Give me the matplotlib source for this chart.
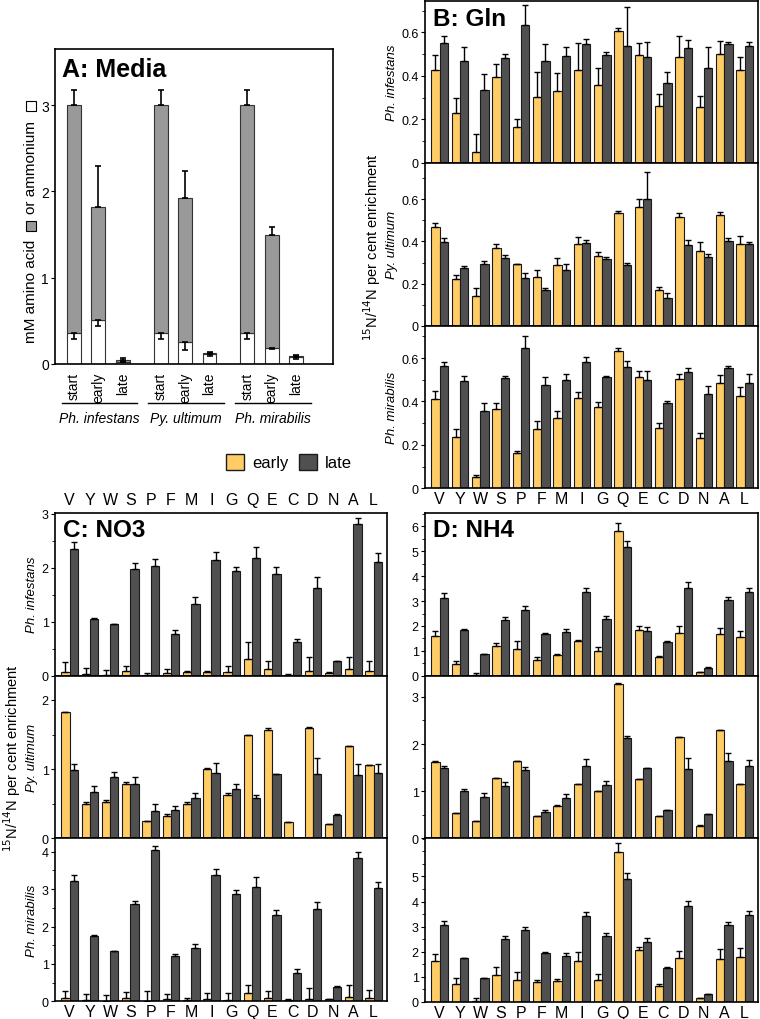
import numpy as np
import matplotlib.pyplot as plt
from matplotlib.patches import Patch, Rectangle
from matplotlib.ticker import MultipleLocator

plt.rcParams['font.family'] = ['Liberation Sans', 'DejaVu Sans']

amino = ['V', 'Y', 'W', 'S', 'P', 'F', 'M', 'I', 'G', 'Q', 'E', 'C', 'D', 'N', 'A', 'L']
species = ['Ph. infestans', 'Py. ultimum', 'Ph. mirabilis']
nan = np.nan

# --- A: media, mM amino acid (grey, total) / ammonium (white)
media_stage = ['start', 'early', 'late']
media_total = [3.00, 1.82, 0.05, 3.00, 1.92, 0.13, 3.00, 1.50, 0.09]
media_total_err = [0.17, 0.47, 0.02, 0.17, 0.32, 0.01, 0.17, 0.09, 0.01]
media_amm = [0.36, 0.51, 0.02, 0.36, 0.25, 0.12, 0.36, 0.19, 0.08]
media_amm_err = [0.07, 0.07, 0.00, 0.07, 0.09, 0.03, 0.07, 0.02, 0.02]

# --- B: Gln
gln_inf_early = [0.428, 0.230, 0.049, 0.394, 0.164, 0.303, 0.332, 0.425, 0.358, 0.609, 0.495, 0.262, 0.487, 0.257, 0.501, 0.425]
gln_inf_early_err = [0.069, 0.067, 0.085, 0.060, 0.037, 0.117, 0.079, 0.127, 0.079, 0.012, 0.056, 0.056, 0.099, 0.050, 0.058, 0.061]
gln_inf_late = [0.553, 0.469, 0.336, 0.482, 0.633, 0.469, 0.492, 0.545, 0.496, 0.539, 0.486, 0.367, 0.527, 0.435, 0.545, 0.539]
gln_inf_late_err = [0.030, 0.064, 0.072, 0.017, 0.094, 0.079, 0.041, 0.023, 0.014, 0.178, 0.071, 0.052, 0.039, 0.099, 0.009, 0.018]

gln_ult_early = [0.467, 0.220, 0.142, 0.367, 0.293, 0.233, 0.290, 0.386, 0.329, 0.533, 0.563, 0.168, 0.517, 0.354, 0.524, 0.386]
gln_ult_early_err = [0.019, 0.021, 0.035, 0.022, 0.002, 0.030, 0.033, 0.036, 0.022, 0.011, 0.038, 0.017, 0.016, 0.045, 0.014, 0.038]
gln_ult_late = [0.397, 0.272, 0.294, 0.320, 0.225, 0.168, 0.264, 0.391, 0.315, 0.286, 0.601, 0.131, 0.381, 0.324, 0.402, 0.386]
gln_ult_late_err = [0.018, 0.013, 0.013, 0.014, 0.025, 0.011, 0.029, 0.017, 0.013, 0.010, 0.130, 0.026, 0.024, 0.015, 0.016, 0.013]

gln_mir_early = [0.413, 0.238, 0.051, 0.365, 0.161, 0.273, 0.322, 0.414, 0.374, 0.633, 0.511, 0.276, 0.505, 0.230, 0.485, 0.423]
gln_mir_early_err = [0.036, 0.033, 0.012, 0.026, 0.012, 0.038, 0.032, 0.031, 0.025, 0.011, 0.029, 0.025, 0.021, 0.025, 0.038, 0.042]
gln_mir_late = [0.564, 0.494, 0.355, 0.506, 0.647, 0.474, 0.497, 0.584, 0.512, 0.561, 0.501, 0.393, 0.538, 0.436, 0.555, 0.486]
gln_mir_late_err = [0.020, 0.024, 0.038, 0.011, 0.056, 0.038, 0.028, 0.020, 0.006, 0.025, 0.039, 0.010, 0.017, 0.035, 0.009, 0.042]

# --- C: NO3
no3_inf_early = [0.07, 0.04, 0.01, 0.08, 0.02, 0.05, 0.07, 0.06, 0.06, 0.30, 0.13, 0.02, 0.09, 0.05, 0.13, 0.09]
no3_inf_early_err = [0.19, 0.11, 0.09, 0.10, 0.03, 0.08, 0.02, 0.03, 0.12, 0.33, 0.14, 0.02, 0.25, 0.01, 0.22, 0.19]
no3_inf_late = [2.35, 1.05, 0.95, 1.98, 2.03, 0.78, 1.32, 2.15, 1.93, 2.18, 1.89, 0.62, 1.63, 0.27, 2.80, 2.11]
no3_inf_late_err = [0.13, 0.01, 0.01, 0.10, 0.13, 0.07, 0.13, 0.13, 0.09, 0.20, 0.13, 0.05, 0.20, 0.01, 0.11, 0.16]

no3_ult_early = [1.82, 0.50, 0.53, 0.79, 0.25, 0.32, 0.50, 1.00, 0.62, 1.49, 1.56, 0.24, 1.60, 0.20, 1.33, 1.06]
no3_ult_early_err = [0.01, 0.02, 0.03, 0.02, 0.00, 0.03, 0.03, 0.01, 0.03, 0.01, 0.04, 0.00, 0.01, 0.01, 0.01, 0.00]
no3_ult_late = [0.98, 0.67, 0.88, 0.79, 0.40, 0.41, 0.58, 0.95, 0.71, 0.58, 0.93, nan, 0.93, 0.34, 0.92, 0.94]
no3_ult_late_err = [0.09, 0.08, 0.08, 0.10, 0.09, 0.06, 0.08, 0.14, 0.08, 0.04, 0.00, nan, 0.23, 0.01, 0.15, 0.14]

no3_mir_early = [0.08, 0.04, 0.01, 0.09, 0.02, 0.05, 0.04, 0.07, 0.04, 0.23, 0.10, 0.03, 0.07, 0.05, 0.12, 0.08]
no3_mir_early_err = [0.20, 0.15, 0.15, 0.15, 0.26, 0.14, 0.04, 0.15, 0.19, 0.20, 0.18, 0.02, 0.28, 0.02, 0.31, 0.23]
no3_mir_late = [3.21, 1.75, 1.34, 2.59, 4.06, 1.20, 1.42, 3.37, 2.86, 3.07, 2.30, 0.77, 2.47, 0.39, 3.84, 3.02]
no3_mir_late_err = [0.18, 0.02, 0.01, 0.09, 0.10, 0.07, 0.12, 0.17, 0.11, 0.26, 0.14, 0.09, 0.19, 0.02, 0.16, 0.18]

# --- D: NH4
nh4_inf_early = [1.59, 0.49, 0.02, 1.18, 1.06, 0.63, 0.83, 1.40, 0.99, 5.80, 1.84, 0.75, 1.71, 0.15, 1.68, 1.56]
nh4_inf_early_err = [0.21, 0.11, 0.10, 0.14, 0.34, 0.11, 0.03, 0.03, 0.15, 0.35, 0.17, 0.03, 0.27, 0.01, 0.23, 0.22]
nh4_inf_late = [3.14, 1.83, 0.87, 2.25, 2.66, 1.66, 1.75, 3.38, 2.27, 5.19, 1.80, 1.36, 3.54, 0.32, 3.06, 3.38]
nh4_inf_late_err = [0.18, 0.03, 0.01, 0.10, 0.15, 0.06, 0.11, 0.15, 0.11, 0.24, 0.17, 0.04, 0.23, 0.01, 0.12, 0.16]

nh4_ult_early = [1.61, 0.53, 0.36, 1.27, 1.63, 0.47, 0.69, 1.15, 1.00, 3.28, 1.25, 0.47, 2.14, 0.26, 2.29, 1.15]
nh4_ult_early_err = [0.02, 0.01, 0.01, 0.00, 0.01, 0.01, 0.02, 0.01, 0.01, 0.01, 0.00, 0.01, 0.00, 0.02, 0.01, 0.01]
nh4_ult_late = [1.49, 1.00, 0.88, 1.10, 1.44, 0.55, 0.86, 1.54, 1.13, 2.12, 1.50, 0.59, 1.48, 0.52, 1.65, 1.54]
nh4_ult_late_err = [0.05, 0.05, 0.08, 0.09, 0.08, 0.04, 0.07, 0.14, 0.09, 0.04, 0.00, 0.00, 0.23, 0.00, 0.15, 0.13]

nh4_mir_early = [1.62, 0.72, 0.04, 1.09, 0.88, 0.78, 0.84, 1.64, 0.89, 5.97, 2.06, 0.63, 1.74, 0.15, 1.72, 1.78]
nh4_mir_early_err = [0.31, 0.24, 0.11, 0.32, 0.33, 0.11, 0.09, 0.34, 0.24, 0.35, 0.15, 0.07, 0.31, 0.02, 0.39, 0.36]
nh4_mir_late = [3.06, 1.74, 0.96, 2.51, 2.87, 1.94, 1.85, 3.44, 2.63, 4.89, 2.39, 1.36, 3.82, 0.31, 3.06, 3.48]
nh4_mir_late_err = [0.18, 0.03, 0.01, 0.10, 0.10, 0.07, 0.12, 0.14, 0.10, 0.23, 0.15, 0.05, 0.20, 0.01, 0.13, 0.16]

EARLY = '#FFCC66'
LATE = '#505050'
EDGE = '#1a1a1a'
W, H = 760, 1020
fig = plt.figure(figsize=(7.6, 10.2), dpi=100)


def rect(x0, y0, x1, y1):
    # pixel box -> figure fraction
    return [x0 / W, 1 - y1 / H, (x1 - x0) / W, (y1 - y0) / H]


def style_axes(ax):
    for s in ax.spines.values():
        s.set_linewidth(1.2)
    ax.tick_params(axis='y', direction='out', length=3, width=0.8, labelsize=9, pad=1.5)
    ax.tick_params(axis='y', which='minor', direction='out', length=2, width=0.6)


def draw_pair(ax, early, early_err, late, late_err, ymax, yticks, labels, minor):
    x = np.arange(len(amino))
    w = 0.41
    early = np.array(early, float)
    late = np.array(late, float)
    ax.bar(x - w / 2, early, w, color=EARLY, edgecolor=EDGE, linewidth=0.8, zorder=2)
    ax.bar(x + w / 2, late, w, color=LATE, edgecolor=EDGE, linewidth=0.8, zorder=2)
    ax.errorbar(x - w / 2, early, yerr=[np.zeros(16), early_err], fmt='none',
                ecolor='black', elinewidth=1, capsize=2.2, capthick=1, zorder=3)
    ax.errorbar(x + w / 2, late, yerr=[np.zeros(16), late_err], fmt='none',
                ecolor='black', elinewidth=1, capsize=2.2, capthick=1, zorder=3)
    ax.set_xlim(-0.72, 15.66)
    ax.set_ylim(0, ymax)
    ax.set_yticks(yticks)
    ax.set_yticklabels(labels)
    ax.yaxis.set_minor_locator(MultipleLocator(minor))
    ax.set_xticks([])
    style_axes(ax)


# ---------------- Panel A
axA = fig.add_axes(rect(55, 50, 333, 365))
posA = np.array([g * 3.55 + s for g in range(3) for s in range(3)])
tot = np.array(media_total)
amm = np.array(media_amm)
wA = 0.57
axA.bar(posA, amm, wA, color='white', edgecolor='#333333', linewidth=0.8, zorder=2)
axA.bar(posA, tot - amm, wA, bottom=amm, color='#999999', edgecolor='#333333', linewidth=0.8, zorder=2)
axA.errorbar(posA, tot, yerr=[np.zeros(9), media_total_err], fmt='none', ecolor='black',
             elinewidth=1.2, capsize=2.5, capthick=1.2, zorder=3)
axA.errorbar(posA, amm, yerr=[media_amm_err, np.zeros(9)], fmt='none', ecolor='black',
             elinewidth=1.2, capsize=2.5, capthick=1.2, zorder=3)
axA.set_xlim(-0.77, 10.6)
axA.set_ylim(0, 3.65)
axA.set_yticks([0, 1, 2, 3])
axA.set_xticks([])
style_axes(axA)
axA.tick_params(axis='y', labelsize=10)
axA.text(0.025, 0.975, 'A: Media', transform=axA.transAxes, fontsize=18, fontweight='bold',
         va='top', ha='left')
trA = axA.get_xaxis_transform()
for i, p in enumerate(posA):
    axA.text(p, -0.025, media_stage[i % 3], transform=trA, rotation=90, ha='center', va='top',
             fontsize=10)
for g in range(3):
    a, b = posA[g * 3] - 0.5, posA[g * 3 + 2] + 0.6
    axA.plot([a, b], [-0.124, -0.124], transform=trA, color='black', lw=1, clip_on=False)
    axA.text((a + b) / 2, -0.17, species[g], transform=trA, ha='center', va='center',
             fontsize=10, style='italic')

# y label of A built from pieces with legend squares
fig.text(31 / W, 1 - 343 / H, 'mM amino acid', rotation=90, ha='center', va='bottom', fontsize=11)
fig.patches.append(Rectangle((26 / W, 1 - 232 / H), 10 / W, 10 / H, transform=fig.transFigure,
                             facecolor='#999999', edgecolor='black', lw=0.8))
fig.text(31 / W, 1 - 214 / H, 'or ammonium', rotation=90, ha='center', va='bottom', fontsize=11)
fig.patches.append(Rectangle((26 / W, 1 - 112 / H), 10 / W, 10 / H, transform=fig.transFigure,
                             facecolor='white', edgecolor='black', lw=0.8))

# ---------------- Panels B, C, D
panels = [
    ('B: Gln', (425, 758), [2, 163.7, 326.7, 489.3],
     [(gln_inf_early, gln_inf_early_err, gln_inf_late, gln_inf_late_err, 0.745),
      (gln_ult_early, gln_ult_early_err, gln_ult_late, gln_ult_late_err, 0.774),
      (gln_mir_early, gln_mir_early_err, gln_mir_late, gln_mir_late_err, 0.749)],
     [[0, 0.2, 0.4, 0.6]] * 3, 0.1, -0.081, 'bottom'),
    ('C: NO3', (55, 387), [513.5, 676.7, 839.3, 1002.3],
     [(no3_inf_early, no3_inf_early_err, no3_inf_late, no3_inf_late_err, 3.02),
      (no3_ult_early, no3_ult_early_err, no3_ult_late, no3_ult_late_err, 2.35),
      (no3_mir_early, no3_mir_early_err, no3_mir_late, no3_mir_late_err, 4.36)],
     [[0, 1, 2, 3], [0, 1, 2], [0, 1, 2, 3, 4]], 0.5, -0.051, 'both'),
    ('D: NH4', (425, 758), [513.5, 676.7, 839.3, 1003],
     [(nh4_inf_early, nh4_inf_early_err, nh4_inf_late, nh4_inf_late_err, 6.56),
      (nh4_ult_early, nh4_ult_early_err, nh4_ult_late, nh4_ult_late_err, 3.45),
      (nh4_mir_early, nh4_mir_early_err, nh4_mir_late, nh4_mir_late_err, 6.52)],
     [[0, 1, 2, 3, 4, 5, 6], [0, 1, 2, 3], [0, 1, 2, 3, 4, 5]], 0.5, None, 'bottom'),
]

for title, (x0, x1), ys, rows, ticks, minor, labx, letters in panels:
    for r in range(3):
        ax = fig.add_axes(rect(x0, ys[r], x1, ys[r + 1]))
        e, ee, l, le, ymax = rows[r]
        labs = [('%g' % t) for t in ticks[r]]
        draw_pair(ax, e, ee, l, le, ymax, ticks[r], labs, minor)
        if labx is not None:
            ax.set_ylabel(species[r], style='italic', fontsize=9.5)
            ax.yaxis.set_label_coords(labx, 0.5)
        if r == 0:
            ax.text(0.025, 0.965, title, transform=ax.transAxes, fontsize=17.5,
                    fontweight='bold', va='top', ha='left')
            if letters == 'both':
                ax.set_xticks(np.arange(16))
                ax.set_xticklabels(amino, fontsize=11.5)
                ax.tick_params(axis='x', length=0, top=True, bottom=False,
                               labeltop=True, labelbottom=False, pad=4)
        if r == 2:
            ax.set_xticks(np.arange(16))
            ax.set_xticklabels(amino, fontsize=11.5)
            ax.tick_params(axis='x', length=0, pad=2)

lab = '$^{15}$N/$^{14}$N per cent enrichment'
fig.text(372 / W, 1 - 247 / H, lab, rotation=90, ha='center', va='center', fontsize=10.5)
fig.text(12 / W, 1 - 758 / H, lab, rotation=90, ha='center', va='center', fontsize=10.5)

handles = [Patch(facecolor=EARLY, edgecolor=EDGE, label='early'),
           Patch(facecolor=LATE, edgecolor=EDGE, label='late')]
fig.legend(handles=handles, loc='center', bbox_to_anchor=(289 / W, 1 - 463 / H), ncol=2,
           frameon=False, fontsize=12, handlelength=1.1, handleheight=1.1,
           handletextpad=0.5, columnspacing=0.6)

fig.savefig('out.png', dpi=100)
